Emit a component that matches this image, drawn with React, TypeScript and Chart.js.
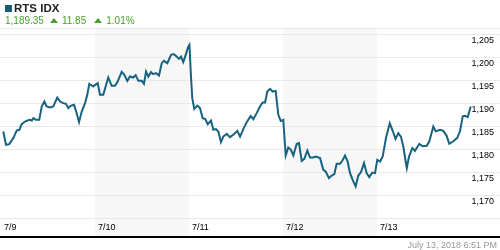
import React, { useEffect, useRef } from "react";
import { Chart, registerables } from "chart.js";

Chart.register(...registerables);

const titleText = "RTS IDX";
const lastPriceText = "1,189.35";
const changeText = "11.85";
const changePctText = "1.01%";
const timestampText = "July 13, 2018 6:51 PM";

const dayLabels = ["7/9", "7/10", "7/11", "7/12", "7/13"];
const dayTicks = [0, 1, 2, 3, 4];
const shadedDays = [1, 3];
const yTickValues = [1165, 1170, 1175, 1180, 1185, 1190, 1195, 1200, 1205];

// time in trading days since 7/9 open
const times = [
  0.024, 0.053, 0.088, 0.131, 0.167, 0.195, 0.22, 0.255, 0.301, 0.327, 0.344, 0.372, 0.407, 0.433, 0.461, 0.486,
  0.521, 0.556, 0.599, 0.628, 0.663, 0.691, 0.716, 0.741, 0.777, 0.805, 0.83, 0.859, 0.894, 0.918, 0.939, 0.982,
  0.995, 1.029, 1.053, 1.088, 1.141, 1.178, 1.213, 1.241, 1.284, 1.312, 1.344, 1.372, 1.407, 1.433, 1.461, 1.497,
  1.521, 1.543, 1.567, 1.596, 1.62, 1.649, 1.681, 1.71, 1.734, 1.769, 1.809, 1.837, 1.869, 1.894, 1.915, 1.939,
  1.965, 1.993, 2.005, 2.021, 2.035, 2.056, 2.088, 2.117, 2.146, 2.173, 2.199, 2.234, 2.259, 2.287, 2.312, 2.34,
  2.365, 2.401, 2.436, 2.471, 2.514, 2.543, 2.578, 2.614, 2.656, 2.684, 2.72, 2.755, 2.784, 2.809, 2.833, 2.862,
  2.89, 2.922, 2.95, 2.976, 3.003, 3.029, 3.056, 3.085, 3.11, 3.146, 3.17, 3.199, 3.227, 3.259, 3.287, 3.322,
  3.351, 3.394, 3.429, 3.454, 3.489, 3.518, 3.546, 3.571, 3.606, 3.631, 3.66, 3.688, 3.713, 3.741, 3.773, 3.801,
  3.83, 3.862, 3.89, 3.918, 3.95, 3.979, 4.003, 4.032, 4.061, 4.096, 4.136, 4.17, 4.197, 4.227, 4.255, 4.28,
  4.305, 4.317, 4.34, 4.376, 4.404, 4.45, 4.486, 4.529, 4.556, 4.599, 4.624, 4.67, 4.705, 4.741, 4.769, 4.812,
  4.854, 4.883, 4.912, 4.936, 4.965, 4.997,
];

const prices = [
  1183.89, 1180.98, 1181.14, 1182.45, 1184.1, 1184.26, 1185.5, 1186.07, 1186.44, 1186.29, 1186.81, 1186.44, 1186.44, 1189.35, 1190.44, 1189.35,
  1189.13, 1189.35, 1191.31, 1190.44, 1190.09, 1189.93, 1189.0, 1189.5, 1189.72, 1187.9, 1185.94, 1188.25, 1190.09, 1191.9, 1194.3, 1193.71,
  1193.97, 1194.45, 1191.9, 1191.9, 1195.68, 1193.86, 1193.86, 1194.8, 1196.92, 1196.27, 1194.96, 1195.9, 1195.68, 1196.2, 1194.96, 1194.96,
  1194.3, 1196.99, 1195.9, 1196.86, 1196.42, 1196.64, 1196.11, 1198.82, 1199.32, 1198.82, 1200.63, 1200.79, 1200.26, 1199.76, 1200.26, 1199.04,
  1200.63, 1202.45, 1202.82, 1195.9, 1191.18, 1188.84, 1189.56, 1189.0, 1186.81, 1186.59, 1185.5, 1186.29, 1184.26, 1184.41, 1183.89, 1181.57,
  1182.79, 1183.38, 1182.66, 1183.17, 1184.04, 1182.79, 1184.41, 1185.94, 1187.31, 1186.59, 1187.9, 1189.35, 1190.22, 1190.22, 1192.62, 1193.21,
  1192.62, 1192.77, 1187.53, 1186.22, 1186.44, 1178.65, 1180.39, 1179.89, 1178.65, 1181.2, 1181.35, 1177.49, 1177.93, 1179.74, 1178.21, 1178.21,
  1178.43, 1178.08, 1175.52, 1175.15, 1173.71, 1174.28, 1174.59, 1176.83, 1176.83, 1177.49, 1178.65, 1177.34, 1174.8, 1173.34, 1171.88, 1174.28,
  1175.02, 1176.99, 1174.8, 1173.93, 1174.93, 1174.8, 1177.71, 1177.34, 1178.43, 1182.51, 1185.68, 1183.89, 1182.29, 1183.54, 1182.73, 1180.61,
  1177.34, 1175.9, 1178.36, 1180.26, 1179.67, 1181.2, 1180.66, 1180.76, 1181.7, 1184.98, 1183.93, 1184.26, 1184.04, 1182.95, 1181.2, 1181.75,
  1182.51, 1183.93, 1187.21, 1187.31, 1187.03, 1189.35,
];

const X_MIN = -0.01064;
const X_MAX = 5.2447;
const Y_MIN = 1165;
const Y_MAX = 1206.5;

const FONT = "'Liberation Sans', Arial, Helvetica, sans-serif";
const LINE_COLOR = "#17627f";
const GREEN = "#4aa02c";
const GRID = "#e9e9e9";
const BAND = "#f7f7f7";

const bandPlugin = {
  id: "dayBands",
  beforeDraw(chart: any) {
    const { ctx, chartArea, scales } = chart;
    const x = scales.x;
    ctx.save();
    ctx.fillStyle = BAND;
    for (const d of shadedDays) {
      const x0 = x.getPixelForValue(d);
      const x1 = x.getPixelForValue(d + 1);
      ctx.fillRect(x0, chartArea.top, x1 - x0, 236 - chartArea.top);
    }
    ctx.restore();
  },
};

function Triangle() {
  return (
    <span
      style={{
        display: "inline-block",
        width: 0,
        height: 0,
        borderLeft: "4px solid transparent",
        borderRight: "4px solid transparent",
        borderBottom: `5px solid ${GREEN}`,
        marginRight: 4,
        verticalAlign: "1px",
      }}
    />
  );
}

export default function App() {
  const canvasRef = useRef<HTMLCanvasElement | null>(null);

  useEffect(() => {
    document.body.style.margin = "0";
    const canvas = canvasRef.current;
    if (!canvas) return;
    const data = times.map((t, i) => ({ x: t, y: prices[i] }));
    const chart = new Chart(canvas, {
      type: "line",
      data: {
        datasets: [
          {
            data,
            borderColor: LINE_COLOR,
            borderWidth: 2,
            pointRadius: 0,
            tension: 0,
            fill: false,
          },
        ],
      },
      options: {
        animation: false,
        responsive: false,
        devicePixelRatio: 1,
        layout: { padding: { top: 28, left: 0, right: 0, bottom: 12 } },
        plugins: { legend: { display: false }, tooltip: { enabled: false } },
        scales: {
          x: {
            type: "linear",
            min: X_MIN,
            max: X_MAX,
            afterBuildTicks: (axis: any) => {
              axis.ticks = dayTicks.map((v) => ({ value: v }));
            },
            grid: { display: false, drawTicks: false },
            border: { display: false },
            ticks: {
              align: "start",
              autoSkip: false,
              maxRotation: 0,
              padding: 0,
              labelOffset: 3,
              color: "#000",
              font: { family: FONT, size: 9, lineHeight: "20px" },
              callback: (v: any) => dayLabels[dayTicks.indexOf(Number(v))] ?? "",
            },
          },
          y: {
            type: "linear",
            position: "right",
            min: Y_MIN,
            max: Y_MAX,
            afterBuildTicks: (axis: any) => {
              axis.ticks = [...yTickValues, Y_MAX].map((v) => ({ value: v }));
            },
            grid: { color: GRID, lineWidth: 1, drawTicks: true, tickLength: 6, tickColor: GRID },
            border: { display: false },
            ticks: {
              mirror: true,
              padding: 0,
              labelOffset: 6,
              color: "#000",
              font: { family: FONT, size: 9 },
              callback: (v: any) => {
                const n = Number(v);
                if (n === Y_MIN || n === Y_MAX) return "";
                return n.toLocaleString("en-US");
              },
            },
          },
        },
      },
      plugins: [bandPlugin],
    } as any);
    return () => chart.destroy();
  }, []);

  return (
    <div style={{ position: "relative", width: 500, height: 250, overflow: "hidden", fontFamily: FONT }}>
      <canvas ref={canvasRef} width={500} height={250} style={{ display: "block", width: 500, height: 250 }} />
      <div style={{ position: "absolute", left: 5, top: 5, width: 7, height: 7, background: "#1a5b78" }} />
      <div
        style={{
          position: "absolute",
          left: 14,
          top: 2,
          fontSize: 11.5,
          lineHeight: "12px",
          fontWeight: "bold",
          color: "#222",
          whiteSpace: "nowrap",
        }}
      >
        {titleText}
      </div>
      <div
        style={{
          position: "absolute",
          left: 5,
          top: 14.5,
          fontSize: 10,
          lineHeight: "12px",
          color: GREEN,
          whiteSpace: "nowrap",
        }}
      >
        <span style={{ marginRight: 6 }}>{lastPriceText}</span>
        <Triangle />
        <span style={{ marginRight: 8 }}>{changeText}</span>
        <Triangle />
        <span>{changePctText}</span>
      </div>
      <div style={{ position: "absolute", left: 0, top: 236, width: 500, height: 2, background: "#000" }} />
      <div
        style={{
          position: "absolute",
          right: 3,
          top: 240,
          fontSize: 9,
          lineHeight: "10px",
          color: "#999",
          whiteSpace: "nowrap",
        }}
      >
        {timestampText}
      </div>
    </div>
  );
}
